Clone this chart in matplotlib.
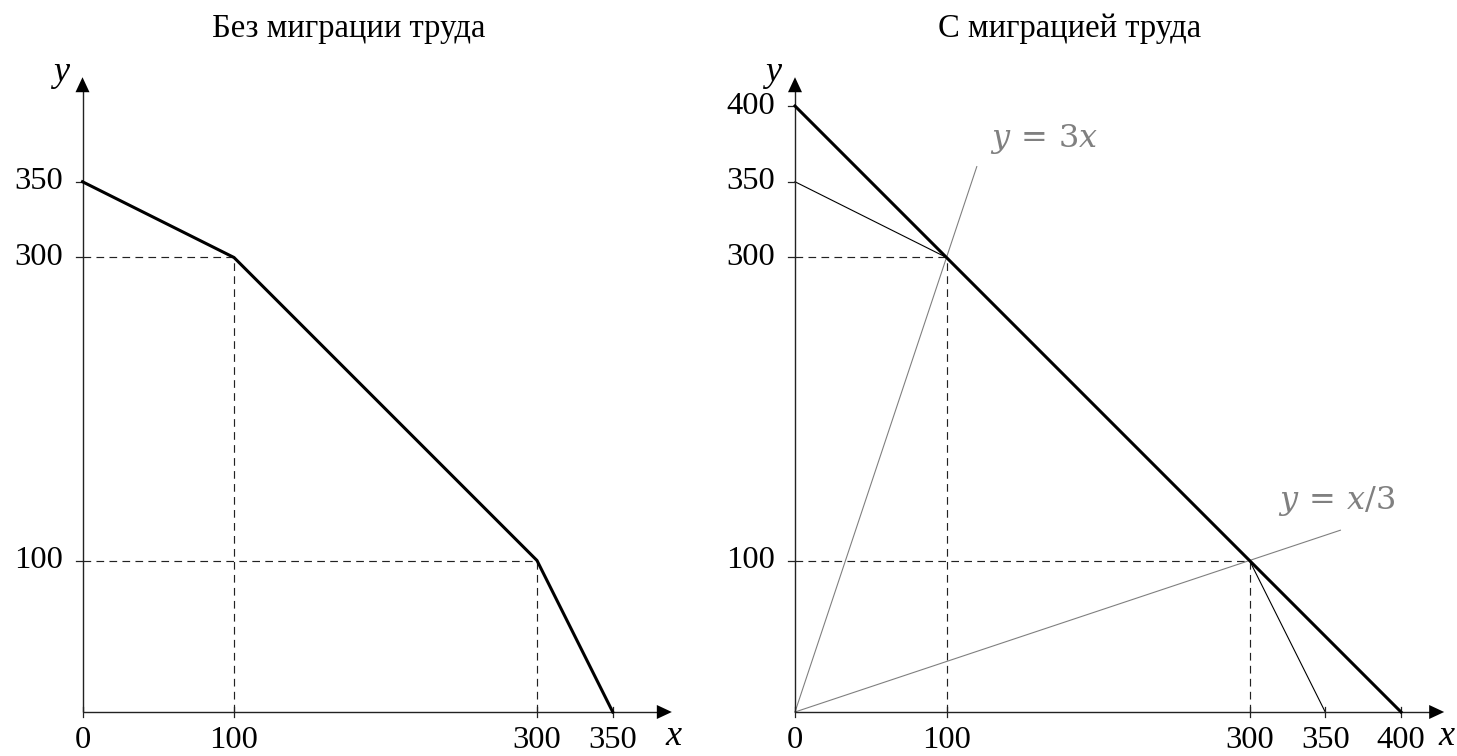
import matplotlib
matplotlib.use("Agg")
import matplotlib.pyplot as plt

# ---- data ----
left_ppf_x = [0, 100, 300, 350]
left_ppf_y = [350, 300, 100, 0]
left_xticks = [0, 100, 300, 350]
left_yticks = [100, 300, 350]
left_guides = [(100, 300), (300, 100)]

right_total_x = [0, 400]
right_total_y = [400, 0]
right_thin_a_x = [0, 100]
right_thin_a_y = [350, 300]
right_thin_b_x = [300, 350]
right_thin_b_y = [100, 0]
ray3_x = [0, 120]
ray3_y = [0, 360]
ray13_x = [0, 360]
ray13_y = [0, 120]
right_xticks = [0, 100, 300, 350, 400]
right_yticks = [100, 300, 350, 400]
right_guides = [(100, 300), (300, 100)]

titles = ["Без миграции труда", "С миграцией труда"]

W, H = 1457, 756
S = 1.515  # px per unit
OY = 712
fig = plt.figure(figsize=(W / 100, H / 100), dpi=100)

FONT = "Liberation Serif"
TICK_FS = 23.4
GRAY = "#808080"
AXC = "#222222"


def make_axes(px0, px1, ox, oy):
    ax = fig.add_axes([px0 / W, 0, (px1 - px0) / W, 1])
    ax.set_xlim((px0 - ox) / S, (px1 - ox) / S)
    ax.set_ylim((oy - H) / S, oy / S)
    ax.axis("off")
    return ax


def draw_axes(ax, xend, yend, xticks, yticks, xlab_x):
    ax.plot([0, xend - 5], [0, 0], color=AXC, lw=1.0, solid_capstyle="butt")
    ax.plot([0, 0], [0, yend - 5], color=AXC, lw=1.0, solid_capstyle="butt")
    style = "-|>,head_length=0.9,head_width=0.42"
    ax.annotate("", xy=(xend, 0), xytext=(xend - 12, 0),
                arrowprops=dict(arrowstyle=style, mutation_scale=12,
                                color="black", lw=0, shrinkA=0, shrinkB=0))
    ax.annotate("", xy=(0, yend), xytext=(0, yend - 12),
                arrowprops=dict(arrowstyle=style, mutation_scale=12,
                                color="black", lw=0, shrinkA=0, shrinkB=0))
    for t in xticks:
        ax.plot([t, t], [-3, 3], color=AXC, lw=0.9)
        ax.text(t, -28.3, str(t), ha="center", va="bottom", fontsize=TICK_FS,
                family=FONT)
    for t in yticks:
        ax.plot([-4.5, 0], [t, t], color=AXC, lw=0.9)
        ax.text(-13, t, str(t), ha="right", va="center", fontsize=TICK_FS,
                family=FONT)
    ax.text(xlab_x, -22, "x", ha="center", va="baseline", fontsize=26,
            family=FONT, style="italic")
    ax.text(-14.5, yend + 3, "y", ha="center", va="center", fontsize=26,
            family=FONT, style="italic")


def draw_guides(ax, guides):
    for gx, gy in guides:
        ax.plot([0, gx], [gy, gy], color="#222222", lw=0.85, ls=(0, (6.5, 4.5)))
        ax.plot([gx, gx], [0, gy], color="#222222", lw=0.85, ls=(0, (6.5, 4.5)))


# left panel
axL = make_axes(0, 728, 82.5, OY)
draw_guides(axL, left_guides)
draw_axes(axL, 389, 419, left_xticks, left_yticks, 390)
axL.plot(left_ppf_x, left_ppf_y, color="black", lw=2.2)
fig.text(349 / W, 1 - 37 / H, titles[0], ha="center", va="baseline",
         fontsize=23.5, family=FONT)

# right panel
axR = make_axes(728, W, 795, OY)
draw_guides(axR, right_guides)
axR.plot(ray3_x, ray3_y, color=GRAY, lw=0.8)
axR.plot(ray13_x, ray13_y, color=GRAY, lw=0.8)
axR.plot(right_thin_a_x, right_thin_a_y, color="black", lw=0.8)
axR.plot(right_thin_b_x, right_thin_b_y, color="black", lw=0.8)
draw_axes(axR, 428.5, 419, right_xticks, right_yticks, 430)
axR.plot(right_total_x, right_total_y, color="black", lw=2.2)
fig.text(1070 / W, 1 - 37 / H, titles[1], ha="center", va="baseline",
         fontsize=23.5, family=FONT)
axR.text(129, 378, "$y\\,=\\,3x$", color=GRAY, fontsize=23, ha="left",
         va="center", math_fontfamily="dejavuserif")
axR.text(319, 139, "$y\\,=\\,x/3$", color=GRAY, fontsize=23, ha="left",
         va="center", math_fontfamily="dejavuserif")

fig.savefig("out.png", dpi=100)
